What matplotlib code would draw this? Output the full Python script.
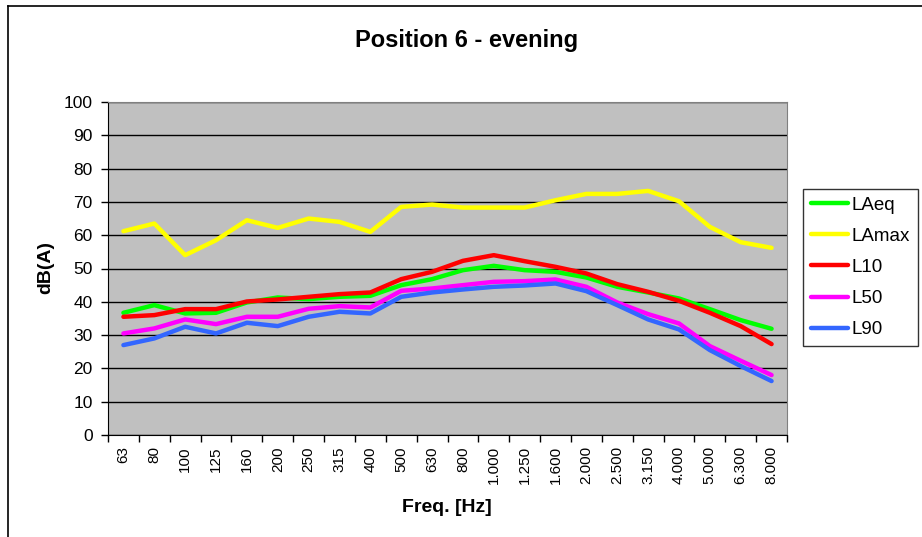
import matplotlib
matplotlib.use("Agg")
import matplotlib.pyplot as plt
from matplotlib.lines import Line2D
import numpy as np

plt.rcParams['font.family'] = ['Liberation Sans', 'DejaVu Sans']

# third-octave bands
freqs = ["63", "80", "100", "125", "160", "200", "250", "315", "400", "500", "630",
         "800", "1.000", "1.250", "1.600", "2.000", "2.500", "3.150", "4.000",
         "5.000", "6.300", "8.000"]

laeq = [36.7, 39.0, 36.5, 36.7, 39.8, 41.3, 40.8, 41.5, 41.8, 45.0, 46.8,
        49.5, 50.8, 49.5, 49.0, 47.3, 44.5, 42.8, 41.0, 37.8, 34.5, 31.9]
lamax = [61.2, 63.5, 54.0, 58.5, 64.5, 62.2, 65.0, 64.0, 61.0, 68.5, 69.2,
         68.3, 68.3, 68.3, 70.5, 72.4, 72.4, 73.3, 70.2, 62.5, 57.9, 56.2]
l10 = [35.5, 36.0, 37.8, 37.8, 40.1, 40.7, 41.5, 42.3, 42.8, 46.8, 49.0,
       52.3, 54.0, 52.2, 50.5, 48.5, 45.3, 43.0, 40.3, 36.7, 32.7, 27.3]
l50 = [30.5, 32.0, 34.7, 33.3, 35.5, 35.5, 37.9, 38.7, 38.3, 43.3, 44.0,
       45.0, 46.0, 46.2, 46.7, 44.5, 39.8, 36.3, 33.5, 26.7, 22.3, 18.0]
l90 = [27.0, 29.0, 32.5, 30.5, 33.7, 32.7, 35.5, 37.0, 36.5, 41.5, 42.8,
       43.7, 44.5, 44.9, 45.5, 43.2, 39.0, 34.7, 31.7, 25.5, 20.7, 16.2]

series = [("LAeq", laeq, "#00FF00"), ("LAmax", lamax, "#FFFF00"),
          ("L10", l10, "#FF0000"), ("L50", l50, "#FF00FF"), ("L90", l90, "#3366FF")]

W, H = 922, 537
fig = plt.figure(figsize=(W / 100, H / 100), dpi=100)
ax = fig.add_axes([108 / W, 1 - 435 / H, (787 - 108) / W, (435 - 102) / H])
ax.set_facecolor("#C0C0C0")

x = np.arange(len(freqs))
for name, vals, col in series:
    ax.plot(x, vals, color=col, lw=3.2, label=name, solid_capstyle='round', zorder=3)

ax.set_xlim(-0.5, len(freqs) - 0.5)
ax.set_ylim(0, 100)
ax.set_yticks(np.arange(0, 101, 10))
ax.yaxis.grid(True, color="black", lw=1)
ax.set_axisbelow(True)

# ticks sit between categories, labels in the middle
ax.set_xticks(np.arange(-0.5, len(freqs), 1))
ax.set_xticklabels([])
ax.set_xticks(x, freqs, minor=True, rotation=90)
ax.tick_params(axis='x', which='minor', length=0, labelsize=11, pad=8)
ax.tick_params(axis='both', which='major', direction='out', length=5, width=1, colors='black')
ax.tick_params(axis='y', labelsize=12.5, pad=6)

for side in ["top", "right"]:
    ax.spines[side].set_color("#808080")
for side in ["left", "bottom"]:
    ax.spines[side].set_color("black")

fig.text(46 / W, 1 - 267 / H, "dB(A)", rotation=90, ha='center', va='center',
         fontsize=14, fontweight='bold')
fig.text(447 / W, 1 - 507 / H, "Freq. [Hz]", ha='center', va='center',
         fontsize=14, fontweight='bold')
fig.text(467 / W, 1 - 40 / H, "Position 6 - evening", ha='center', va='center',
         fontsize=17, fontweight='bold')

leg = ax.legend(loc='upper left', bbox_to_anchor=(803 / W, 1 - 189 / H), bbox_transform=fig.transFigure,
                frameon=True, fancybox=False, fontsize=13.5, handlelength=2.0,
                labelspacing=0.75, borderpad=0.4, handletextpad=0.2, borderaxespad=0)
leg.get_frame().set_edgecolor("black")
leg.get_frame().set_linewidth(1)

# outer chart frame
fig.add_artist(Line2D([8 / W, 8 / W], [0, 1 - 6 / H], color='black', lw=1.2))
fig.add_artist(Line2D([8 / W, 1], [1 - 6 / H, 1 - 6 / H], color='black', lw=1.2))

fig.savefig("out.png", dpi=100)
